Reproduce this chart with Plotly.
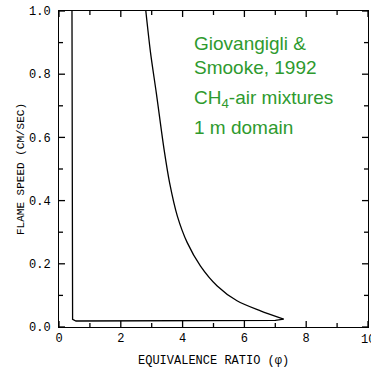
import plotly.graph_objects as go

# Lower branch (near the lean limit, running along the bottom)
phi_low = [0.42, 0.425, 0.44, 0.55, 2.0, 4.0, 6.0, 7.0, 7.27]
speed_low = [1.0, 0.05, 0.024, 0.019, 0.019, 0.019, 0.02, 0.021, 0.025]
# Upper branch
phi_up = [7.27, 6.52, 5.76, 5.12, 4.58, 4.15, 3.83, 3.58, 3.40, 3.15, 2.96, 2.81]
speed_up = [0.025, 0.051, 0.083, 0.130, 0.193, 0.267, 0.351, 0.456, 0.562, 0.74, 0.87, 1.0]

xticks = [0, 2, 4, 6, 8, 10]
xminor = [1, 3, 5, 7, 9]
yticks = [0.0, 0.2, 0.4, 0.6, 0.8, 1.0]
yminor = [0.1, 0.3, 0.5, 0.7, 0.9]
ytick_text = ["0.0", "0.2", "0.4", "0.6", "0.8", "1.0"]

x_title = "EQUIVALENCE RATIO (φ)"
y_title = "FLAME SPEED (CM/SEC)"

notes = ["Giovangigli &", "Smooke, 1992", "CH<sub>4</sub>-air mixtures", "1 m domain"]
note_y = [0.896, 0.822, 0.722, 0.632]

fig = go.Figure()
fig.add_trace(go.Scatter(x=phi_low, y=speed_low, mode="lines",
                         line=dict(color="black", width=1.3),
                         showlegend=False, hoverinfo="skip"))
fig.add_trace(go.Scatter(x=phi_up, y=speed_up, mode="lines",
                         line=dict(color="black", width=1.3, shape="spline", smoothing=0.8),
                         showlegend=False, hoverinfo="skip"))

mono = "Liberation Mono, DejaVu Sans Mono, monospace"
axis_common = dict(showgrid=False, zeroline=False, showline=True, linecolor="black",
                   linewidth=1, mirror=True, ticks="", automargin=False,
                   tickfont=dict(family=mono, size=12, color="black"))

fig.update_xaxes(range=[0, 10], tickmode="array", tickvals=xticks, **axis_common)
fig.update_yaxes(range=[0, 1], tickmode="array", tickvals=yticks, ticktext=ytick_text, **axis_common,
                 ticklabelstandoff=5,
                 title=dict(text=y_title, font=dict(family=mono, size=11, color="black"), standoff=2))

# X-axis title placed as an annotation, centred ~34 px below the axis line
fig.add_annotation(text=x_title, x=0.5, y=0, xref="paper", yref="paper",
                   xanchor="center", yanchor="middle", yshift=-34, showarrow=False,
                   font=dict(family=mono, size=12, color="black"))

# Inside tick marks on all four sides, drawn as pixel-sized shapes anchored at the tick values
tick_line = dict(color="black", width=1.3)
for vals, ln in ((xticks, 6), (xminor, 4)):
    for v in vals:
        for anchor, sign in ((0, 1), (1, -1)):
            fig.add_shape(type="line", xref="x", yref="paper", x0=v, x1=v,
                          ysizemode="pixel", yanchor=anchor, y0=0, y1=sign * ln, line=tick_line)
for vals, ln in ((yticks, 6), (yminor, 4)):
    for v in vals:
        for anchor, sign in ((0, 1), (1, -1)):
            fig.add_shape(type="line", xref="paper", yref="y", y0=v, y1=v,
                          xsizemode="pixel", xanchor=anchor, x0=0, x1=sign * ln, line=tick_line)

# The "10" tick label sits on the right edge and is partly cut off, as in the reference
fig.add_annotation(text="10", x=10, y=0, xref="x", yref="paper", yanchor="top", xanchor="center",
                   yshift=-4, showarrow=False, font=dict(family=mono, size=12, color="black"))

for t, yy in zip(notes, note_y):
    fig.add_annotation(text=t, x=0.432, y=yy, xref="paper", yref="paper",
                       xanchor="left", yanchor="middle", showarrow=False,
                       font=dict(family="Liberation Sans, Arial, sans-serif", size=19, color="#2E9A2E"))

fig.update_layout(width=371, height=368, margin=dict(l=59, r=3, t=11, b=41),
                  plot_bgcolor="white", paper_bgcolor="white")
fig.write_html("out.html")
